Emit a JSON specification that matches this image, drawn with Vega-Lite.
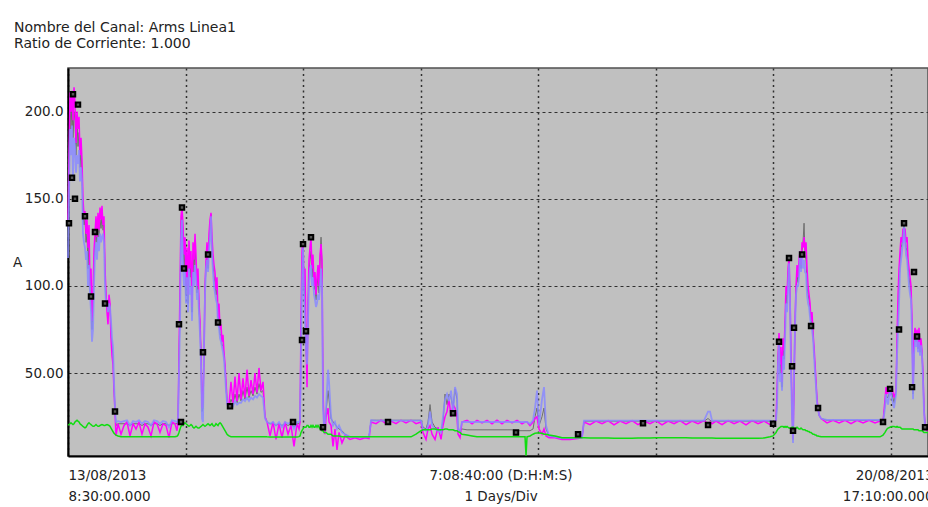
{
"$schema": "https://vega.github.io/schema/vega-lite/v6.json",
"width": 860, "height": 388,
"autosize": {"type": "none"},
"padding": {"left": 68, "top": 68, "right": 0, "bottom": 51},
"background": "white",
"config": {"font": "DejaVu Sans", "view": {"fill": "#c0c0c0", "stroke": "#505050", "strokeWidth": 1.5}},
"title": {"text": ["Nombre del Canal: Arms Linea1", "Ratio de Corriente: 1.000"], "anchor": "start", "frame": "group", "orient": "top", "dx": -54, "offset": 17, "fontSize": 14, "fontWeight": "normal", "color": "#222", "lineHeight": 16},
"datasets": {
"s": [
{"h":0,"m":136,"b":116,"g":128,"k":20.3},{"h":0.2,"m":175,"b":150,"g":160,"k":20.5},{"h":0.41,"m":211,"b":190,"g":205,"k":21},{"h":0.61,"m":200,"b":175,"g":190,"k":21.5},{"h":0.82,"m":212,"b":192,"g":205,"k":21},{"h":1.02,"m":195,"b":160,"g":185,"k":20.5},{"h":1.23,"m":214,"b":185,"g":200,"k":21},{"h":1.43,"m":205,"b":180,"g":195,"k":22},{"h":1.63,"m":182,"b":165,"g":175,"k":22.5},{"h":1.84,"m":200,"b":175,"g":195,"k":23},{"h":2.04,"m":190,"b":170,"g":180,"k":22.5},{"h":2.25,"m":197,"b":178,"g":188,"k":22},{"h":2.45,"m":175,"b":160,"g":168,"k":21},{"h":2.66,"m":185,"b":168,"g":178,"k":20.5},{"h":2.86,"m":172,"b":160,"g":165,"k":20},{"h":3.06,"m":150,"b":130,"g":140,"k":19.5},{"h":3.27,"m":140,"b":125,"g":135,"k":19},{"h":3.47,"m":143,"b":122,"g":138,"k":18.6},{"h":3.68,"m":130,"b":115,"g":125,"k":19},{"h":3.88,"m":138,"b":120,"g":130,"k":20},{"h":4.09,"m":122,"b":100,"g":110,"k":21},{"h":4.29,"m":135,"b":112,"g":125,"k":21.5},{"h":4.49,"m":100,"b":96,"g":98,"k":21},{"h":4.7,"m":110,"b":85,"g":95,"k":20.5},{"h":4.9,"m":80,"b":68,"g":75,"k":20},{"h":5.11,"m":95,"b":75,"g":90,"k":19.5},{"h":5.31,"m":120,"b":100,"g":110,"k":19.5},{"h":5.51,"m":130,"b":118,"g":125,"k":20},{"h":5.72,"m":140,"b":125,"g":132,"k":20.5},{"h":5.92,"m":128,"b":115,"g":125,"k":20},{"h":6.13,"m":142,"b":128,"g":135,"k":19.5},{"h":6.33,"m":132,"b":120,"g":128,"k":19.5},{"h":6.54,"m":145,"b":130,"g":138,"k":20},{"h":6.74,"m":138,"b":125,"g":133,"k":20.3},{"h":6.94,"m":146,"b":128,"g":140,"k":20.5},{"h":7.15,"m":135,"b":130,"g":132,"k":20.3},{"h":7.35,"m":140,"b":125,"g":135,"k":20},{"h":7.56,"m":110,"b":100,"g":105,"k":20},{"h":7.76,"m":96,"b":90,"g":95,"k":20.3},{"h":7.97,"m":85,"b":92,"g":90,"k":20.5},{"h":8.17,"m":78,"b":85,"g":82,"k":20.3},{"h":8.37,"m":95,"b":90,"g":92,"k":20},{"h":8.58,"m":90,"b":88,"g":89,"k":19.5},{"h":8.78,"m":70,"b":80,"g":75,"k":18.5},{"h":8.99,"m":60,"b":70,"g":65,"k":17.5},{"h":9.19,"m":55,"b":65,"g":60,"k":16.5},{"h":9.4,"m":40,"b":45,"g":42,"k":15.5},{"h":9.6,"m":28,"b":30,"g":29,"k":15},{"h":9.8,"m":14,"b":22,"g":20,"k":14.5},
{"h":10.21,"m":21,"b":22.5,"g":21,"k":14},{"h":10.83,"m":15,"b":22,"g":21,"k":13.6},{"h":11.44,"m":20,"b":22.5,"g":21,"k":13.6},{"h":12.05,"m":22,"b":23,"g":21,"k":13.6},{"h":12.66,"m":14,"b":20,"g":20,"k":13.6},{"h":13.28,"m":21,"b":22.5,"g":21,"k":13.6},{"h":13.89,"m":18,"b":22,"g":21,"k":13.6},{"h":14.5,"m":22,"b":23,"g":21,"k":13.6},{"h":15.11,"m":15,"b":21,"g":20,"k":13.6},{"h":15.73,"m":21,"b":22.5,"g":21,"k":13.6},{"h":16.34,"m":19,"b":22,"g":21,"k":13.6},{"h":16.95,"m":14,"b":20,"g":20,"k":13.6},{"h":17.57,"m":22,"b":23,"g":21,"k":13.6},{"h":18.18,"m":21,"b":22.5,"g":21,"k":13.6},{"h":18.79,"m":16,"b":21,"g":20,"k":13.6},{"h":19.4,"m":21,"b":22.5,"g":21,"k":13.6},{"h":20.02,"m":20,"b":22,"g":21,"k":13.6},{"h":20.63,"m":13,"b":19,"g":20,"k":13.6},{"h":21.24,"m":22,"b":23,"g":21,"k":13.6},{"h":21.85,"m":21,"b":22.5,"g":21,"k":13.6},{"h":22.26,"m":17,"b":22,"g":21,"k":13.8},
{"h":22.47,"m":22,"b":22,"g":22,"k":14.5},{"h":22.67,"m":60,"b":50,"g":55,"k":16},{"h":22.88,"m":100,"b":78,"g":90,"k":18},{"h":23.08,"m":140,"b":125,"g":135,"k":19.5},{"h":23.28,"m":145,"b":138,"g":144,"k":20.3},{"h":23.49,"m":135,"b":110,"g":125,"k":20},{"h":23.69,"m":118,"b":100,"g":110,"k":21},{"h":23.9,"m":128,"b":108,"g":120,"k":21.5},{"h":24.1,"m":100,"b":90,"g":95,"k":21},{"h":24.31,"m":122,"b":105,"g":115,"k":20.5},{"h":24.51,"m":95,"b":85,"g":90,"k":20},{"h":24.71,"m":126,"b":110,"g":118,"k":19.5},{"h":24.92,"m":110,"b":95,"g":105,"k":20},{"h":25.12,"m":120,"b":100,"g":112,"k":20.5},{"h":25.33,"m":88,"b":80,"g":85,"k":20},{"h":25.53,"m":125,"b":108,"g":118,"k":19},{"h":25.74,"m":115,"b":100,"g":108,"k":18.5},{"h":25.94,"m":130,"b":112,"g":122,"k":19},{"h":26.14,"m":118,"b":105,"g":112,"k":19.5},{"h":26.35,"m":100,"b":92,"g":96,"k":19},{"h":26.55,"m":110,"b":98,"g":105,"k":18.5},{"h":26.76,"m":90,"b":84,"g":88,"k":18.5},{"h":26.96,"m":80,"b":72,"g":76,"k":19},{"h":27.17,"m":60,"b":55,"g":62,"k":19.5},{"h":27.37,"m":30,"b":24,"g":28,"k":20},{"h":27.57,"m":35,"b":22,"g":30,"k":20.5},{"h":27.78,"m":60,"b":65,"g":62,"k":20},{"h":27.98,"m":100,"b":95,"g":98,"k":19.5},{"h":28.19,"m":115,"b":110,"g":112,"k":20},{"h":28.39,"m":125,"b":115,"g":118,"k":20.5},{"h":28.6,"m":112,"b":108,"g":110,"k":21},{"h":28.8,"m":130,"b":120,"g":125,"k":20.5},{"h":29.0,"m":138,"b":128,"g":132,"k":20},{"h":29.21,"m":142,"b":140,"g":141,"k":20.5},{"h":29.41,"m":128,"b":118,"g":122,"k":21},{"h":29.62,"m":118,"b":108,"g":112,"k":20},{"h":29.82,"m":112,"b":100,"g":106,"k":19.5},{"h":30.02,"m":108,"b":96,"g":102,"k":20},{"h":30.23,"m":98,"b":92,"g":95,"k":21},{"h":30.43,"m":105,"b":90,"g":98,"k":20.5},{"h":30.64,"m":82,"b":78,"g":80,"k":20},{"h":30.84,"m":90,"b":76,"g":82,"k":21},{"h":31.05,"m":75,"b":70,"g":72,"k":21.5},{"h":31.25,"m":78,"b":68,"g":72,"k":21},{"h":31.45,"m":68,"b":65,"g":66,"k":20},{"h":31.66,"m":72,"b":62,"g":66,"k":19},{"h":31.86,"m":62,"b":58,"g":60,"k":18},{"h":32.07,"m":55,"b":50,"g":52,"k":17},{"h":32.27,"m":45,"b":40,"g":42,"k":16},{"h":32.48,"m":35,"b":33,"g":34,"k":15},{"h":32.68,"m":30,"b":31,"g":31,"k":14.5},{"h":32.88,"m":32,"b":31,"g":31,"k":14},
{"h":33.29,"m":45,"b":32,"g":35,"k":13.6},{"h":33.7,"m":33,"b":31,"g":32,"k":13.6},{"h":34.11,"m":48,"b":34,"g":38,"k":13.6},{"h":34.52,"m":34,"b":32,"g":33,"k":13.6},{"h":34.93,"m":50,"b":33,"g":38,"k":13.6},{"h":35.34,"m":35,"b":33,"g":34,"k":13.6},{"h":35.74,"m":47,"b":35,"g":40,"k":13.6},{"h":36.15,"m":36,"b":34,"g":35,"k":13.6},{"h":36.56,"m":52,"b":36,"g":42,"k":13.6},{"h":36.97,"m":37,"b":34,"g":36,"k":13.6},{"h":37.38,"m":46,"b":36,"g":40,"k":13.6},{"h":37.79,"m":38,"b":35,"g":37,"k":13.6},{"h":38.19,"m":50,"b":37,"g":42,"k":13.6},{"h":38.6,"m":39,"b":36,"g":38,"k":13.6},{"h":39.01,"m":53,"b":38,"g":44,"k":13.6},{"h":39.42,"m":40,"b":37,"g":39,"k":13.6},{"h":39.83,"m":45,"b":36,"g":40,"k":13.6},{"h":40.24,"m":25,"b":24,"g":25,"k":13.6},{"h":40.65,"m":22,"b":22,"g":22,"k":13.5},
{"h":41.26,"m":14,"b":21,"g":21,"k":13.4},{"h":41.87,"m":22,"b":22,"g":21,"k":13.4},{"h":42.48,"m":12,"b":20,"g":20,"k":13.4},{"h":43.1,"m":21,"b":22,"g":21,"k":13.4},{"h":43.71,"m":13,"b":19,"g":20,"k":13.4},{"h":44.32,"m":22,"b":22,"g":21,"k":13.4},{"h":44.94,"m":15,"b":21,"g":20,"k":13.4},{"h":45.55,"m":20,"b":22,"g":21,"k":13.4},{"h":46.16,"m":8,"b":18,"g":19,"k":13.4},{"h":46.77,"m":21,"b":22,"g":21,"k":13.4},{"h":47.18,"m":18,"b":22,"g":21,"k":13.6},
{"h":47.39,"m":22,"b":23,"g":22,"k":14},{"h":47.59,"m":80,"b":60,"g":70,"k":16},{"h":47.79,"m":120,"b":100,"g":110,"k":17},{"h":48.0,"m":125,"b":122,"g":124,"k":18},{"h":48.2,"m":100,"b":95,"g":98,"k":19},{"h":48.41,"m":110,"b":80,"g":95,"k":19},{"h":48.61,"m":70,"b":65,"g":68,"k":19},{"h":48.82,"m":42,"b":55,"g":50,"k":20},{"h":49.02,"m":90,"b":80,"g":85,"k":20},{"h":49.22,"m":115,"b":100,"g":108,"k":19},{"h":49.43,"m":122,"b":110,"g":115,"k":19},{"h":49.63,"m":128,"b":112,"g":120,"k":20},{"h":49.84,"m":110,"b":100,"g":105,"k":19},{"h":50.04,"m":118,"b":105,"g":112,"k":20},{"h":50.25,"m":100,"b":95,"g":98,"k":19},{"h":50.45,"m":108,"b":92,"g":100,"k":19},{"h":50.65,"m":95,"b":88,"g":92,"k":20},{"h":50.86,"m":105,"b":90,"g":100,"k":19},{"h":51.06,"m":112,"b":95,"g":105,"k":20},{"h":51.27,"m":100,"b":92,"g":96,"k":19},{"h":51.47,"m":118,"b":100,"g":112,"k":18},{"h":51.68,"m":124,"b":110,"g":128,"k":18},{"h":51.88,"m":115,"b":100,"g":110,"k":17},{"h":52.08,"m":40,"b":30,"g":35,"k":17},{"h":52.29,"m":20,"b":19,"g":20,"k":16},{"h":52.49,"m":15,"b":22,"g":20,"k":16},{"h":52.7,"m":25,"b":30,"g":28,"k":16},{"h":53.11,"m":30,"b":52,"g":40,"k":15},{"h":53.31,"m":22,"b":45,"g":35,"k":15},{"h":53.72,"m":20,"b":25,"g":24,"k":15},{"h":54.13,"m":8,"b":20,"g":22,"k":14},{"h":54.53,"m":18,"b":22,"g":21,"k":14},{"h":54.94,"m":6,"b":18,"g":19,"k":14},{"h":55.35,"m":16,"b":20,"g":18,"k":14},{"h":55.96,"m":10,"b":16,"g":17,"k":13.6},{"h":56.58,"m":14,"b":15,"g":15,"k":13.5},{"h":57.6,"m":12,"b":13.5,"g":13.5,"k":13.5},{"h":58.62,"m":13,"b":13.5,"g":13.5,"k":13.5},{"h":59.64,"m":12,"b":13.5,"g":13.5,"k":13.5},{"h":60.66,"m":13,"b":13.5,"g":13.5,"k":13.5},{"h":61.48,"m":12.5,"b":13.5,"g":13.5,"k":13.5},
{"h":61.89,"m":22,"b":23,"g":23,"k":13.5},{"h":62.91,"m":21,"b":22.8,"g":23,"k":13.5},{"h":63.93,"m":23,"b":22.8,"g":23,"k":13.5},{"h":64.95,"m":21,"b":22.8,"g":23,"k":13.5},{"h":65.97,"m":22.5,"b":22.8,"g":23,"k":13.5},{"h":66.99,"m":21,"b":22.8,"g":23,"k":13.5},{"h":68.02,"m":23,"b":22.8,"g":23,"k":13.5},{"h":69.04,"m":21.5,"b":22.8,"g":23,"k":13.5},{"h":70.06,"m":23,"b":22.8,"g":23,"k":13.5},{"h":71.08,"m":21,"b":22.8,"g":23,"k":15},{"h":72.1,"m":22,"b":22.8,"g":23,"k":17},
{"h":72.51,"m":16,"b":18,"g":19,"k":17.5},{"h":73.12,"m":12,"b":17,"g":18,"k":17.5},{"h":73.53,"m":18,"b":20,"g":22,"k":17.5},{"h":73.94,"m":20,"b":28,"g":32,"k":17.5},{"h":74.35,"m":15,"b":20,"g":22,"k":18},{"h":74.96,"m":12,"b":18,"g":19,"k":18},{"h":75.57,"m":19,"b":17,"g":18,"k":17.5},{"h":76.19,"m":12,"b":16,"g":17,"k":17.5},{"h":76.59,"m":20,"b":25,"g":22,"k":17.5},{"h":77.0,"m":25,"b":35,"g":38,"k":18},{"h":77.41,"m":28,"b":38,"g":32,"k":18},{"h":77.82,"m":35,"b":34,"g":38,"k":17.5},{"h":78.23,"m":25,"b":40,"g":36,"k":17.5},{"h":78.64,"m":32,"b":27,"g":30,"k":17.5},{"h":79.04,"m":30,"b":42,"g":41,"k":17},{"h":79.45,"m":25,"b":38,"g":35,"k":17},{"h":79.66,"m":15,"b":18,"g":18,"k":16.5},{"h":80.07,"m":13,"b":17,"g":17,"k":16},
{"h":80.47,"m":22,"b":22,"g":18,"k":15},{"h":81.5,"m":23,"b":22,"g":17.5,"k":14.5},{"h":82.52,"m":21,"b":22,"g":17.5,"k":14},{"h":83.54,"m":23,"b":22,"g":17.5,"k":13.5},{"h":84.56,"m":21.5,"b":22,"g":17.5,"k":13.5},{"h":85.58,"m":23,"b":22,"g":17.5,"k":13.5},{"h":86.6,"m":21,"b":22,"g":17.5,"k":13.5},{"h":87.62,"m":23,"b":22,"g":17.5,"k":13.5},{"h":88.64,"m":21,"b":22,"g":17.5,"k":13.5},{"h":89.67,"m":23,"b":22,"g":17.5,"k":13.5},{"h":90.69,"m":21.5,"b":22,"g":17.5,"k":13.5},{"h":91.71,"m":23,"b":22,"g":17,"k":13.5},{"h":92.73,"m":21,"b":22,"g":17,"k":13.5},{"h":93.34,"m":22,"b":22,"g":17,"k":13.5},{"h":93.55,"m":22,"b":22,"g":17,"k":2.6},{"h":93.75,"m":22,"b":22,"g":17,"k":13.5},{"h":94.36,"m":20,"b":21,"g":17,"k":14},{"h":94.98,"m":22,"b":23,"g":18,"k":15},{"h":95.38,"m":24,"b":30,"g":25,"k":15.5},{"h":95.79,"m":25,"b":40,"g":30,"k":15.7},{"h":96.2,"m":18,"b":20,"g":20,"k":15.7},{"h":96.81,"m":15,"b":35,"g":25,"k":15.5},{"h":97.22,"m":18,"b":42,"g":30,"k":15},{"h":97.63,"m":14,"b":20,"g":18,"k":15},{"h":98.24,"m":13,"b":14,"g":14,"k":14.5},{"h":99.47,"m":13,"b":13.5,"g":13.5,"k":14},{"h":100.9,"m":12,"b":12.7,"g":13,"k":13},{"h":102.53,"m":12,"b":12.7,"g":13,"k":13},{"h":104.17,"m":12.5,"b":13,"g":13,"k":13},{"h":104.98,"m":13,"b":13,"g":13,"k":13},
{"h":105.39,"m":22,"b":22.8,"g":22.5,"k":13},{"h":106.62,"m":20.5,"b":22.8,"g":22.5,"k":12.8},{"h":107.84,"m":22.5,"b":22.8,"g":22.5,"k":12.8},{"h":109.07,"m":21,"b":22.8,"g":22.5,"k":12.8},{"h":110.3,"m":22.8,"b":22.8,"g":22.5,"k":12.8},{"h":111.52,"m":20.3,"b":22.8,"g":22.5,"k":12.7},{"h":112.75,"m":22.5,"b":22.8,"g":22.5,"k":12.7},{"h":113.97,"m":21,"b":22.8,"g":22.5,"k":12.7},{"h":115.2,"m":22.8,"b":22.8,"g":22.5,"k":12.7},{"h":116.42,"m":20.5,"b":22.8,"g":22.5,"k":12.8},{"h":117.65,"m":22.5,"b":22.8,"g":22.5,"k":12.8},{"h":118.87,"m":21,"b":22.8,"g":22.5,"k":12.8},{"h":120.1,"m":22.8,"b":22.8,"g":22.5,"k":12.9},{"h":121.32,"m":20.3,"b":22.8,"g":22.5,"k":13},{"h":122.55,"m":22.5,"b":22.8,"g":22.5,"k":13},{"h":123.78,"m":21,"b":22.8,"g":22.5,"k":13},{"h":125.0,"m":22.8,"b":22.8,"g":22.5,"k":13},{"h":126.23,"m":20.5,"b":22.8,"g":22.5,"k":12.9},{"h":127.45,"m":22.5,"b":22.8,"g":22.5,"k":12.8},{"h":128.68,"m":21,"b":22.8,"g":22.5,"k":12.8},{"h":129.9,"m":22.8,"b":22.8,"g":22.5,"k":12.8},{"h":130.72,"m":21,"b":28,"g":24,"k":12.8},{"h":131.13,"m":22,"b":28,"g":23,"k":12.8},{"h":131.54,"m":21,"b":22.8,"g":22.5,"k":12.8},{"h":132.35,"m":22.5,"b":22.8,"g":22.5,"k":12.7},{"h":133.58,"m":20.5,"b":22.8,"g":22.5,"k":12.7},{"h":134.81,"m":22.8,"b":22.8,"g":22.5,"k":12.7},{"h":136.03,"m":21,"b":22.8,"g":22.5,"k":12.7},{"h":137.26,"m":22.5,"b":22.8,"g":22.5,"k":12.7},{"h":138.48,"m":20.3,"b":22.8,"g":22.5,"k":12.7},{"h":139.71,"m":22.8,"b":22.8,"g":22.5,"k":12.7},{"h":140.93,"m":21,"b":22.8,"g":22.5,"k":12.7},{"h":142.16,"m":22.5,"b":22.8,"g":22.5,"k":12.8},{"h":143.38,"m":20.5,"b":22.8,"g":22.5,"k":13.5},{"h":144.0,"m":22,"b":22,"g":22,"k":14},
{"h":144.61,"m":23,"b":23,"g":23,"k":16},{"h":144.81,"m":40,"b":30,"g":35,"k":17},{"h":145.02,"m":60,"b":55,"g":58,"k":18},{"h":145.22,"m":73,"b":67,"g":70,"k":18.5},{"h":145.43,"m":55,"b":45,"g":50,"k":19},{"h":145.63,"m":65,"b":50,"g":60,"k":19.4},{"h":145.83,"m":45,"b":40,"g":42,"k":19.4},{"h":146.04,"m":70,"b":60,"g":65,"k":19.4},{"h":146.24,"m":63,"b":52,"g":58,"k":19},{"h":146.45,"m":80,"b":70,"g":75,"k":19.4},{"h":146.65,"m":100,"b":90,"g":95,"k":19},{"h":146.86,"m":95,"b":85,"g":90,"k":19.4},{"h":147.06,"m":110,"b":100,"g":105,"k":19},{"h":147.26,"m":116,"b":113,"g":115,"k":18.5},{"h":147.47,"m":95,"b":90,"g":92,"k":18.5},{"h":147.67,"m":60,"b":50,"g":55,"k":18},{"h":147.88,"m":30,"b":25,"g":28,"k":19},{"h":148.08,"m":12,"b":10,"g":12,"k":19},{"h":148.28,"m":40,"b":50,"g":45,"k":18.5},{"h":148.49,"m":80,"b":76,"g":78,"k":18},{"h":148.69,"m":100,"b":95,"g":98,"k":18.5},{"h":148.9,"m":112,"b":100,"g":106,"k":19},{"h":149.1,"m":105,"b":100,"g":102,"k":18.5},{"h":149.31,"m":115,"b":105,"g":110,"k":18},{"h":149.51,"m":120,"b":119,"g":118,"k":18},{"h":149.71,"m":112,"b":108,"g":110,"k":18.5},{"h":149.92,"m":125,"b":118,"g":120,"k":18},{"h":150.12,"m":122,"b":110,"g":125,"k":17.5},{"h":150.33,"m":128,"b":115,"g":136,"k":17.5},{"h":150.53,"m":120,"b":108,"g":118,"k":17.5},{"h":150.74,"m":125,"b":107,"g":115,"k":17},{"h":150.94,"m":110,"b":95,"g":100,"k":17},{"h":151.15,"m":100,"b":90,"g":95,"k":16.5},{"h":151.35,"m":95,"b":88,"g":92,"k":16.5},{"h":151.55,"m":90,"b":82,"g":86,"k":16},{"h":151.76,"m":80,"b":77,"g":78,"k":16},{"h":151.96,"m":85,"b":75,"g":80,"k":15.5},{"h":152.17,"m":73,"b":70,"g":72,"k":15},{"h":152.37,"m":65,"b":60,"g":62,"k":15},{"h":152.58,"m":55,"b":50,"g":52,"k":14.5},{"h":152.78,"m":45,"b":42,"g":44,"k":14.5},{"h":152.98,"m":35,"b":32,"g":34,"k":14},{"h":153.19,"m":30,"b":30,"g":30,"k":14},{"h":153.39,"m":26,"b":26,"g":26,"k":13.8},{"h":153.8,"m":24,"b":24,"g":24,"k":13.5},
{"h":155.02,"m":21.5,"b":23.2,"g":23,"k":13.5},{"h":156.25,"m":23,"b":23.2,"g":23,"k":13.5},{"h":157.48,"m":21.5,"b":23.2,"g":23,"k":13.5},{"h":158.7,"m":23,"b":23.2,"g":23,"k":13.5},{"h":159.93,"m":21,"b":23.2,"g":23,"k":13.5},{"h":161.15,"m":23,"b":23.2,"g":23,"k":13.5},{"h":162.38,"m":21.5,"b":23.2,"g":23,"k":13.5},{"h":163.6,"m":23,"b":23.2,"g":23,"k":13.5},{"h":164.83,"m":21.5,"b":23.2,"g":23,"k":13.5},{"h":165.85,"m":22.5,"b":23,"g":23,"k":13.5},{"h":166.46,"m":22,"b":22,"g":22,"k":14.5},
{"h":166.87,"m":35,"b":30,"g":32,"k":16},{"h":167.07,"m":42,"b":38,"g":40,"k":17},{"h":167.28,"m":38,"b":34,"g":36,"k":18},{"h":167.48,"m":40,"b":32,"g":36,"k":18.5},{"h":167.89,"m":38,"b":41,"g":40,"k":19},{"h":168.3,"m":42,"b":35,"g":38,"k":19.4},{"h":168.71,"m":36,"b":30,"g":33,"k":19.4},{"h":169.12,"m":40,"b":38,"g":40,"k":19},{"h":169.32,"m":70,"b":60,"g":65,"k":19.4},{"h":169.53,"m":95,"b":75,"g":85,"k":19},{"h":169.73,"m":110,"b":90,"g":100,"k":19},{"h":169.94,"m":120,"b":110,"g":115,"k":19},{"h":170.14,"m":128,"b":115,"g":122,"k":18.5},{"h":170.34,"m":125,"b":120,"g":124,"k":18},{"h":170.55,"m":133,"b":125,"g":130,"k":18},{"h":170.75,"m":130,"b":134,"g":136,"k":18},{"h":170.96,"m":133,"b":125,"g":128,"k":18},{"h":171.16,"m":125,"b":118,"g":122,"k":18},{"h":171.37,"m":128,"b":115,"g":120,"k":18},{"h":171.57,"m":115,"b":108,"g":112,"k":18},{"h":171.77,"m":110,"b":100,"g":105,"k":18},{"h":171.98,"m":105,"b":95,"g":100,"k":18},{"h":172.18,"m":100,"b":92,"g":96,"k":18},{"h":172.39,"m":80,"b":70,"g":75,"k":18},{"h":172.59,"m":40,"b":35,"g":38,"k":18},{"h":172.79,"m":70,"b":60,"g":65,"k":17.5},{"h":173.0,"m":76,"b":70,"g":72,"k":17.5},{"h":173.2,"m":70,"b":65,"g":68,"k":17.5},{"h":173.41,"m":75,"b":70,"g":72,"k":17.5},{"h":173.61,"m":65,"b":62,"g":64,"k":17.5},{"h":173.81,"m":76,"b":68,"g":72,"k":17},{"h":174.02,"m":63,"b":60,"g":62,"k":17},{"h":174.22,"m":70,"b":66,"g":68,"k":17},{"h":174.43,"m":62,"b":60,"g":61,"k":17},{"h":174.63,"m":50,"b":45,"g":48,"k":16.5},{"h":174.83,"m":30,"b":28,"g":30,"k":16},{"h":175.04,"m":20,"b":19,"g":20,"k":16},{"h":175.45,"m":17,"b":18,"g":18,"k":16},{"h":176.67,"m":19,"b":18,"g":18,"k":16}
],
"mk": [
{"h":0.2,"v":136},{"h":1.02,"v":210},{"h":2.04,"v":204},{"h":0.82,"v":162},{"h":1.43,"v":150},{"h":3.47,"v":140},{"h":5.51,"v":131},{"h":4.7,"v":94},{"h":7.56,"v":90},{"h":9.6,"v":28},{"h":23.28,"v":145},{"h":22.67,"v":78},{"h":23.69,"v":110},{"h":27.57,"v":62},{"h":28.6,"v":118},{"h":30.64,"v":79},{"h":33.09,"v":31},{"h":23.08,"v":22},{"h":45.96,"v":22},{"h":48.0,"v":124},{"h":49.63,"v":128},{"h":47.79,"v":69},{"h":48.61,"v":74},{"h":52.08,"v":19},{"h":65.36,"v":22},{"h":78.64,"v":27},{"h":91.5,"v":16},{"h":104.17,"v":15},{"h":117.44,"v":21.3},{"h":130.72,"v":20.3},{"h":144.0,"v":21},{"h":145.22,"v":68},{"h":147.26,"v":116},{"h":148.28,"v":76},{"h":147.88,"v":54},{"h":148.08,"v":17},{"h":149.92,"v":118},{"h":151.76,"v":77},{"h":153.19,"v":30},{"h":166.46,"v":22},{"h":167.89,"v":41},{"h":170.75,"v":136},{"h":172.79,"v":108},{"h":169.73,"v":75},{"h":172.39,"v":42},{"h":173.41,"v":71},{"h":175.04,"v":19}
]
},
"data": {"name": "s"},
"encoding": {
  "x": {"field": "h", "type": "quantitative",
    "scale": {"domain": [0, 176.667], "range": [0, 865], "nice": false, "zero": false},
    "axis": {"values": [0, 24, 48, 72, 96, 120, 144, 168, 176.667], "grid": true, "gridColor": "#303030", "gridDash": [2, 3.5], "gridWidth": 1.5,
      "ticks": false, "tickSize": 0, "domainColor": "#000", "domainWidth": 2,
      "labelExpr": "datum.value == 0 ? ['13/08/2013', '8:30:00.000'] : (datum.value > 170 ? ['20/08/2013', '17:10:00.000'] : '')",
      "labelFlush": true, "labelOverlap": false, "labelFontSize": 13.5, "labelColor": "#222", "labelLineHeight": 21, "labelPadding": 12, "labelBaseline": "top",
      "title": ["7:08:40:00 (D:H:M:S)", "1 Days/Div"], "titleFontWeight": "normal", "titleFontSize": 13.5, "titleLineHeight": 21, "titleY": 12, "titleBaseline": "top", "titleColor": "#222"}}
},
"layer": [
  {"mark": {"type": "line", "color": "#6e6e6e", "strokeWidth": 1},
   "encoding": {"y": {"field": "g", "type": "quantitative", "title": "A",
     "scale": {"domain": [2.5, 225], "nice": false, "zero": false},
     "axis": {"values": [50, 100, 150, 200], "labelExpr": "datum.value == 50 ? '50.00' : format(datum.value, '.1f')",
       "grid": true, "gridColor": "#303030", "gridDash": [3, 3], "gridWidth": 1, "ticks": false, "tickSize": 0,
       "domainColor": "#000", "domainWidth": 2, "labelPadding": 5, "labelFontSize": 13.5, "labelColor": "#222",
       "titleAngle": 0, "titleX": -51, "titleY": 194, "titleAlign": "center", "titleBaseline": "middle", "titleFontWeight": "normal", "titleFontSize": 13.5, "titleColor": "#222"}}}},
  {"mark": {"type": "line", "color": "#ff00ff", "strokeWidth": 1.5},
   "encoding": {"y": {"field": "m", "type": "quantitative", "title": "A", "scale": {"domain": [2.5, 225], "nice": false, "zero": false}}}},
  {"mark": {"type": "line", "color": "#8a8aff", "strokeWidth": 1.8, "opacity": 0.85},
   "encoding": {"y": {"field": "b", "type": "quantitative", "title": "A", "scale": {"domain": [2.5, 225], "nice": false, "zero": false}}}},
  {"mark": {"type": "line", "color": "#10dd10", "strokeWidth": 1.5},
   "encoding": {"y": {"field": "k", "type": "quantitative", "title": "A", "scale": {"domain": [2.5, 225], "nice": false, "zero": false}}}},
  {"data": {"name": "mk"},
   "mark": {"type": "point", "shape": "square", "filled": true, "fill": "#555", "stroke": "#000", "strokeWidth": 2, "size": 20, "opacity": 1},
   "encoding": {"y": {"field": "v", "type": "quantitative", "title": "A", "scale": {"domain": [2.5, 225], "nice": false, "zero": false}}}}
]
}
